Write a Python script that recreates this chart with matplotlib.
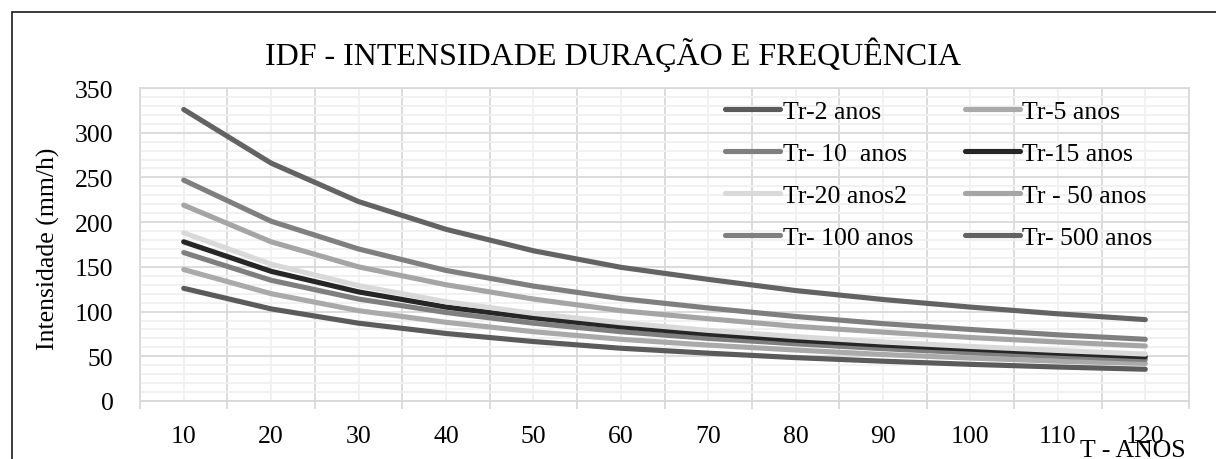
import numpy as np
import matplotlib
matplotlib.use("Agg")
import matplotlib.pyplot as plt
from matplotlib.patches import Rectangle

plt.rcParams['font.family'] = ['Liberation Serif', 'DejaVu Serif']

# duração (min) no eixo x
duracoes = ['10', '20', '30', '40', '50', '60', '70', '80', '90', '100', '110', '120']

# intensidades (mm/h) por tempo de retorno
tr_2 = [126, 103, 87, 75.5, 66.5, 59, 53.5, 48.5, 44.5, 41, 38, 35.5]
tr_5 = [147, 120, 101, 88, 77.5, 69, 62.5, 57, 52, 48, 44.5, 42]
tr_10 = [166, 135, 114, 99, 87, 77.5, 70, 64, 58.5, 54, 50, 46.5]
tr_15 = [178, 145, 122, 105, 93, 83, 75, 68, 62.5, 58, 53.5, 49.5]
tr_20 = [188, 153, 129, 111, 98, 87.5, 79, 72, 66, 61, 56.5, 52.5]
tr_50 = [219, 178, 150, 130, 114, 101, 92, 83.5, 77, 71, 66, 61.5]
tr_100 = [247, 201, 170, 146, 128.5, 114.5, 104, 94.5, 86.5, 80, 74, 69]
tr_500 = [326, 266, 223, 192, 168, 149.5, 136, 123.5, 113.5, 105, 97.5, 91]

series = [
    ('Tr-2 anos', tr_2, '#5b5b5b'),
    ('Tr-5 anos', tr_5, '#aaaaaa'),
    ('Tr- 10  anos', tr_10, '#7f7f7f'),
    ('Tr-15 anos', tr_15, '#262626'),
    ('Tr-20 anos2', tr_20, '#d9d9d9'),
    ('Tr - 50 anos', tr_50, '#a5a5a5'),
    ('Tr- 100 anos', tr_100, '#7f7f7f'),
    ('Tr- 500 anos', tr_500, '#636363'),
]

W, H = 1216, 460
fig = plt.figure(figsize=(W / 100, H / 100), dpi=100)
ax = fig.add_axes([140 / W, 1 - 402 / H, 1049 / W, 313 / H])

x = np.arange(len(duracoes))
linhas = {}
for nome, valores, cor in series:
    ln, = ax.plot(x, valores, color=cor, lw=3.7, solid_capstyle='round',
                  solid_joinstyle='round', label=nome, zorder=3)
    linhas[nome] = ln

ax.set_xlim(-0.5, len(duracoes) - 0.5)
ax.set_ylim(0, 350)

ax.set_xticks(x, duracoes)
ax.set_xticks(np.arange(-0.5, len(duracoes), 1), minor=True)
ax.set_yticks(np.arange(0, 351, 50))
ax.set_yticks(np.arange(0, 351, 10), minor=True)

ax.tick_params(axis='both', which='major', length=0, labelsize=18.5)
ax.tick_params(axis='x', which='major', pad=17)
ax.tick_params(axis='y', which='major', pad=19)
ax.tick_params(axis='x', which='minor', length=6, width=1.3, color='#d9d9d9')
ax.tick_params(axis='y', which='minor', length=0)

ax.grid(which='major', axis='y', color='#d9d9d9', lw=1.3, zorder=1)
ax.grid(which='minor', axis='y', color='#f0f0f0', lw=1.3, zorder=0)
ax.grid(which='minor', axis='x', color='#d9d9d9', lw=1.3, zorder=1)
ax.grid(which='major', axis='x', color='#f0f0f0', lw=1.3, zorder=0)
ax.set_axisbelow(True)
for s in ax.spines.values():
    s.set_color('#d9d9d9')
    s.set_linewidth(1.3)

ax.set_ylabel('Intensidade (mm/h)', fontsize=18.5)
ax.yaxis.set_label_coords(-80 / 1049, 0.49)

fig.text(613 / W, 1 - 55 / H, 'IDF - INTENSIDADE DURAÇÃO E FREQUÊNCIA',
         fontsize=23, ha='center', va='center')
fig.text(1186 / W, 1 - 457 / H, 'T - ANOS', fontsize=18.5, ha='right', va='baseline')

# legenda em duas colunas, preenchida por linha
ordem = ['Tr-2 anos', 'Tr- 10  anos', 'Tr-20 anos2', 'Tr- 100 anos',
         'Tr-5 anos', 'Tr-15 anos', 'Tr - 50 anos', 'Tr- 500 anos']
fig.legend([linhas[n] for n in ordem], ordem, ncol=2, frameon=False,
           loc='upper left', bbox_to_anchor=(725 / W, 1 - 101 / H),
           fontsize=18.5, handlelength=2.15, handletextpad=0.1,
           labelspacing=0.74, columnspacing=2.0, borderpad=0, borderaxespad=0)

fig.add_artist(Rectangle((12 / W, -0.1), 1.2, 1.1 - 13 / H, transform=fig.transFigure,
                         fill=False, edgecolor='#1a1a1a', lw=1.2))

fig.savefig('out.png', dpi=100)
